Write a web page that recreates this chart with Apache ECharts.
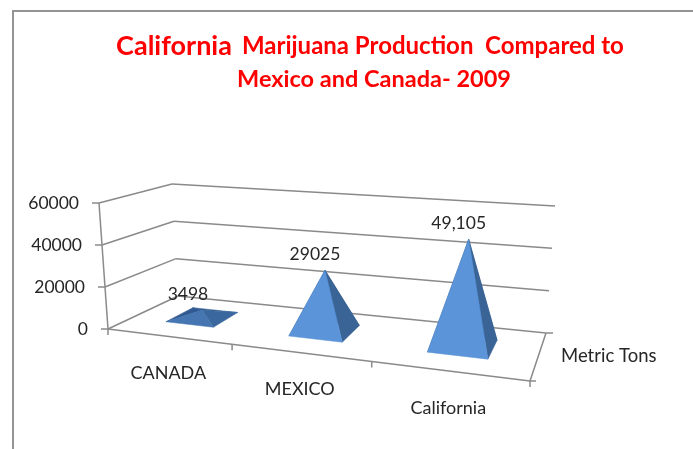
<!DOCTYPE html>
<html>
<head>
<meta charset="utf-8">
<style>html,body{margin:0;padding:0;background:#fff}#chart{width:693px;height:449px}</style>
<script src="https://cdn.jsdelivr.net/npm/echarts@6/dist/echarts.min.js"></script>
</head>
<body>
<div id="chart"></div>
<script>
// Chart data
const categories = ['CANADA', 'MEXICO', 'California'];
const production = [3498, 29025, 49105];
const valueLabels = ['3498', '29025', '49,105'];
const valueTicks = [0, 20000, 40000, 60000];
const depthLabel = 'Metric Tons';

// Corners of the 3D box on screen, as [x, y]; names read (side, level, depth)
const BOX = {
  leftFloorFront: [108, 329], rightFloorFront: [530, 381],
  leftFloorBack: [178, 296], rightFloorBack: [546, 333],
  leftTopFront: [99, 203], rightTopFront: [543, 239],
  leftTopBack: [172, 184], rightTopBack: [555, 206]
};
const FORESHORTEN = 0.833;          // category spacing grows towards the viewer
const PYRAMID_WIDTH = 0.4;          // share of a category slot
const DEPTH_NEAR = 0.34, DEPTH_FAR = 0.75;
const LINE = '#8a8a8a', TEXT = '#262626', FONT = 'Lato';

const lerp = (a, b, t) => [a[0] + (b[0] - a[0]) * t, a[1] + (b[1] - a[1]) * t];

// Turns a point of the flat grid plus a depth (0 front, 1 back) into a box point
function project(api, params, x, y, depth) {
  const c = api.coord([x, y]);
  const r = params.coordSys;
  const u = (c[0] - r.x) / r.width;
  const v = (r.y + r.height - c[1]) / r.height;
  const t = FORESHORTEN * u / (1 + (FORESHORTEN - 1) * u);
  const floor = lerp(lerp(BOX.leftFloorFront, BOX.rightFloorFront, t),
                     lerp(BOX.leftFloorBack, BOX.rightFloorBack, t), depth);
  const top = lerp(lerp(BOX.leftTopFront, BOX.rightTopFront, t),
                   lerp(BOX.leftTopBack, BOX.rightTopBack, t), depth);
  return lerp(floor, top, v);
}

const segment = (a, b) => ({
  type: 'line', silent: true,
  shape: { x1: a[0], y1: a[1], x2: b[0], y2: b[1] },
  style: { stroke: LINE, lineWidth: 1.5 }
});
const text = (s, x, y, align, size) => ({
  type: 'text', silent: true,
  style: { text: s, x: x, y: y, align: align, verticalAlign: 'middle',
           font: (size || 17.5) + 'px ' + FONT, fill: TEXT }
});
const face = (points, fill) => ({
  type: 'polygon', silent: true, shape: { points: points },
  style: { fill: fill, stroke: fill, lineWidth: 0.5 }
});
const mix = (a, b, t) => 'rgb(' + a.map((c, i) => Math.round(c + (b[i] - c) * t)).join(',') + ')';

// Wall gridlines, their ticks and the value labels
function renderWalls(params, api) {
  const value = api.value(0);
  const front = project(api, params, 0, value, 0);
  const back = project(api, params, 0, value, 1);
  const backRight = project(api, params, 3, value, 1);
  const tickEnd = [front[0] - 7, front[1]];
  const children = [
    segment(front, back), segment(back, backRight), segment(front, tickEnd),
    text(String(value), tickEnd[0] - 13, front[1], 'right')
  ];
  if (params.dataIndex === 0) {
    const leftTop = project(api, params, 0, 60000, 0);
    const right = project(api, params, 3, 0, 0);
    const rightBack = project(api, params, 3, 0, 1);
    children.push(
      segment(front, leftTop), segment(front, right), segment(right, rightBack),
      segment(rightBack, [rightBack[0] + 7, rightBack[1]]),
      segment(right, [right[0] + 6, right[1]]), segment(right, [right[0], right[1] + 6]),
      segment(front, [front[0], front[1] + 6]),
      text(depthLabel, (right[0] + rightBack[0]) / 2 + 23, (right[1] + rightBack[1]) / 2 - 1, 'left', 18.5)
    );
  }
  return { type: 'group', children: children };
}

// Category ticks and labels along the front edge of the floor
function renderCategories(params, api) {
  const i = params.dataIndex;
  const mid = project(api, params, i + 0.5, 0, 0);
  const children = [text(categories[i], mid[0], mid[1] + 37, 'center', 18)];
  if (i > 0) {
    const tick = project(api, params, i, 0, 0);
    children.push(segment(tick, [tick[0], tick[1] + 6]));
  }
  return { type: 'group', children: children };
}

// One pyramid: faces painted back to front, squat ones lit less on their sloped sides
function renderPyramid(params, api) {
  const i = params.dataIndex;
  const value = api.value(0);
  const x0 = i + 0.5 - PYRAMID_WIDTH / 2, x1 = i + 0.5 + PYRAMID_WIDTH / 2;
  const fl = project(api, params, x0, 0, DEPTH_NEAR);
  const fr = project(api, params, x1, 0, DEPTH_NEAR);
  const bl = project(api, params, x0, 0, DEPTH_FAR);
  const br = project(api, params, x1, 0, DEPTH_FAR);
  const apex = project(api, params, i + 0.5, value, (DEPTH_NEAR + DEPTH_FAR) / 2);
  const light = Math.min(1, value / 20000);
  const frontFill = mix([64, 112, 170], [91, 148, 216], light);
  const sideFill = mix([58, 105, 160], [58, 100, 150], light);
  const rearFill = 'rgb(48,90,145)';
  return {
    type: 'group',
    children: [
      face([bl, br, apex], rearFill),
      face([fl, bl, apex], rearFill),
      face([fr, br, apex], sideFill),
      face([fl, fr, apex], frontFill),
      text(valueLabels[i], apex[0] - (value < 10000 ? 14 : 10), apex[1] - 16, 'center')
    ]
  };
}

const custom = (name, data, renderItem, z) => ({
  type: 'custom', name: name, data: data, renderItem: renderItem, z: z,
  silent: true, clip: false, animation: false,
  encode: { x: 0, y: 0 }
});

const chart = echarts.init(document.getElementById('chart'), null, { renderer: 'canvas' });
chart.setOption({
  animation: false,
  backgroundColor: '#ffffff',
  tooltip: { show: false },
  title: [
    {
      text: '{big|California}  {small|Marijuana Production  Compared to}',
      left: 365, top: 28, textAlign: 'center',
      textStyle: { rich: {
        big: { fontFamily: FONT, fontWeight: 'bold', fontSize: 27, color: '#ff0000' },
        small: { fontFamily: FONT, fontWeight: 'bold', fontSize: 24, color: '#ff0000' }
      } }
    },
    {
      text: 'Mexico and Canada- 2009',
      left: 369, top: 62, textAlign: 'center',
      textStyle: { fontFamily: FONT, fontWeight: 'bold', fontSize: 23.5, color: '#ff0000' }
    }
  ],
  grid: { left: 108, top: 203, width: 422, height: 126 },
  xAxis: { type: 'value', min: 0, max: 3, show: false },
  yAxis: { type: 'value', min: 0, max: 60000, show: false },
  graphic: [{
    type: 'polyline', silent: true,
    shape: { points: [[13, 449], [13, 11], [693, 11]] },
    style: { stroke: '#949494', lineWidth: 2, fill: null }
  }],
  series: [
    custom('walls', valueTicks.map(v => [v]), renderWalls, 1),
    custom('categories', categories.map((c, i) => [i]), renderCategories, 2),
    custom('production', production.map(v => [v]), renderPyramid, 3)
  ]
});
</script>
</body>
</html>
